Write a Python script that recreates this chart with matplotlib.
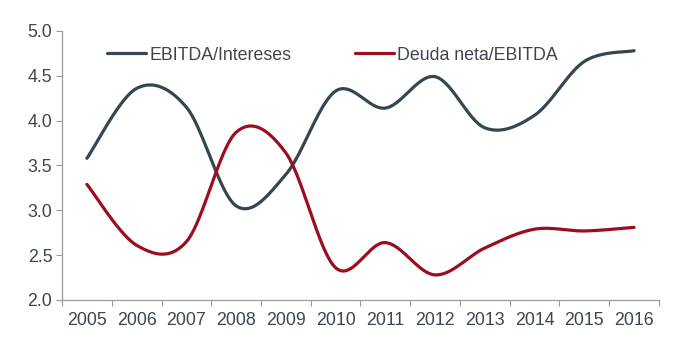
import numpy as np
import matplotlib.pyplot as plt

plt.rcParams['font.family'] = ['Liberation Sans', 'DejaVu Sans']

years = ['2005', '2006', '2007', '2008', '2009', '2010',
         '2011', '2012', '2013', '2014', '2015', '2016']
ebitda_intereses = [3.58, 4.36, 4.15, 3.05, 3.40, 4.33,
                    4.14, 4.49, 3.92, 4.06, 4.66, 4.78]
deuda_ebitda = [3.29, 2.61, 2.65, 3.87, 3.64, 2.36,
                2.64, 2.28, 2.58, 2.79, 2.77, 2.81]


def smooth(x, y, n=40):
    # Excel-like smoothed line: Catmull-Rom as cubic Bezier segments
    x = np.asarray(x, float)
    y = np.asarray(y, float)
    px = np.concatenate([[x[0]], x, [x[-1]]])
    py = np.concatenate([[y[0]], y, [y[-1]]])
    t = np.linspace(0, 1, n)[:, None]
    xs, ys = [], []
    for i in range(len(x) - 1):
        j = i + 1
        p0 = np.array([px[j], py[j]])
        p3 = np.array([px[j + 1], py[j + 1]])
        p1 = p0 + (p3 - np.array([px[j - 1], py[j - 1]])) / 6
        p2 = p3 - (np.array([px[j + 2], py[j + 2]]) - p0) / 6
        pts = ((1 - t) ** 3 * p0 + 3 * (1 - t) ** 2 * t * p1
               + 3 * (1 - t) * t ** 2 * p2 + t ** 3 * p3)
        xs.append(pts[:, 0])
        ys.append(pts[:, 1])
    return np.concatenate(xs), np.concatenate(ys)


fig = plt.figure(figsize=(6.8, 3.51), dpi=100)
ax = fig.add_axes([0.0912, 0.1453, 0.8778, 0.7664])

x = np.arange(len(years))
sx, sy = smooth(x, ebitda_intereses)
ax.plot(sx, sy, color='#36464f', lw=2.3, solid_capstyle='round',
        label='EBITDA/Intereses')
sx, sy = smooth(x, deuda_ebitda)
ax.plot(sx, sy, color='#9c0d1e', lw=2.3, solid_capstyle='round',
        label='Deuda neta/EBITDA')

ax.set_xlim(-0.5, len(years) - 0.5)
ax.set_ylim(2.0, 5.0)
ax.set_yticks(np.arange(2.0, 5.01, 0.5))
ax.set_yticklabels(['%.1f' % v for v in np.arange(2.0, 5.01, 0.5)])
ax.set_xticks(np.arange(-0.5, len(years), 1.0))
ax.set_xticklabels([])
ax.set_xticks(x, minor=True)
ax.set_xticklabels(years, minor=True)

for s in ['top', 'right']:
    ax.spines[s].set_visible(False)
for s in ['left', 'bottom']:
    ax.spines[s].set_color('#9a9a9a')
    ax.spines[s].set_linewidth(0.9)

ax.tick_params(axis='y', which='major', length=4, color='#9a9a9a',
               labelsize=12.8, labelcolor='#3d4650', pad=3)
ax.tick_params(axis='x', which='major', length=4, color='#9a9a9a')
ax.tick_params(axis='x', which='minor', length=0, labelsize=12.8,
               labelcolor='#3d4650', pad=9)

ax.legend(loc='center left', bbox_to_anchor=(0.0754, 0.91), ncol=2,
          frameon=False, fontsize=12.8, handlelength=2.2,
          handletextpad=0.17, columnspacing=3.6, borderpad=0,
          borderaxespad=0, labelcolor='#3d4650')

fig.savefig('out.png', dpi=100)
